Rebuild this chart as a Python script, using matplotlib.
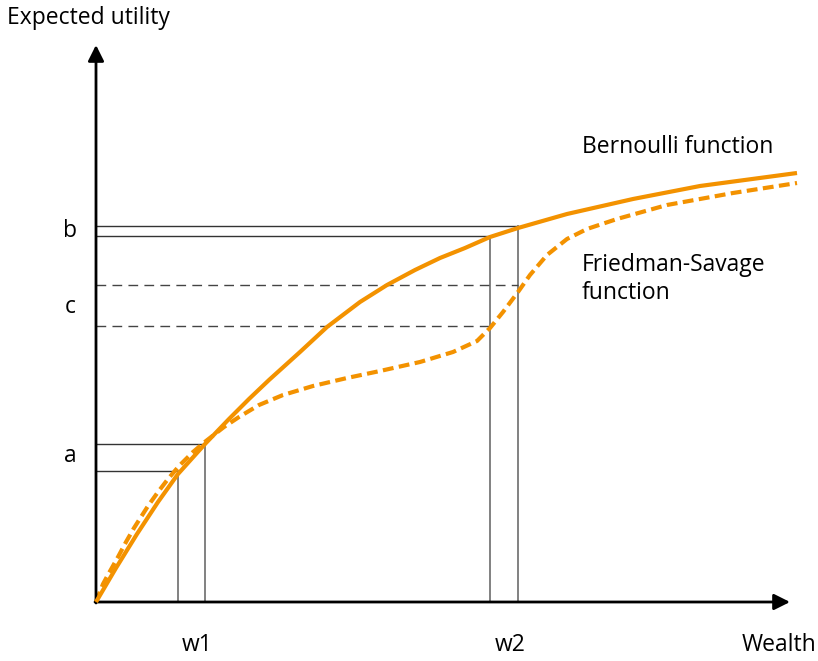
import matplotlib.pyplot as plt

# wealth / utility values (arbitrary units)
wealth_bern = [0, 20, 41, 62, 82, 109, 133, 153, 173, 204, 231, 264, 291, 319, 344,
               369, 394, 422, 471, 537, 604, 701]
util_bern = [0, 34, 68, 100, 128, 158, 183, 203, 222, 250, 275, 300, 317, 332, 344,
             354, 365, 374, 388, 403, 416, 429]

wealth_fs = [0, 7, 13, 22, 30, 38, 52, 62, 72, 83, 97, 110, 128, 143, 163, 187, 217,
             251, 284, 324, 357, 381, 394, 407, 422, 434, 451, 471, 491, 521, 571, 637, 701]
util_fs = [0, 18, 29, 45, 60, 74, 96, 110, 123, 136, 150, 161, 175, 185, 197, 207, 216,
           224, 231, 240, 250, 261, 274, 290, 310, 327, 347, 363, 373, 383, 397, 409, 419]

# gamble outcomes and the utility levels they give
w_small = [82, 109]
u_small = [131, 158]
w_big = [394, 422]
u_big = [366, 376]
u_fs = [276, 317]

xlabels = ['w1', 'w2']
ylabels = ['a', 'c', 'b']

orange = '#F39200'
plt.rcParams['font.family'] = ['Open Sans', 'DejaVu Sans']

fig = plt.figure(figsize=(8.18, 6.61), dpi=100)
ax = fig.add_axes([0, 0, 1, 1])
ax.set_xlim(-96, 722)
ax.set_ylim(-59, 602)
ax.axis('off')

# thin guide lines
for w, u in zip(w_small + w_big, u_small + u_big):
    ax.plot([0, w], [u, u], color='#333333', lw=1.0, zorder=2)
    ax.plot([w, w], [0, u], color='#777777', lw=1.3, zorder=2)
for w, u in zip(w_big, u_fs):
    ax.plot([0, w], [u, u], color='#444444', lw=1.0, dashes=(7, 4.5), zorder=2)

# curves
ax.plot(wealth_bern, util_bern, color=orange, lw=3.0, solid_joinstyle='round',
        solid_capstyle='butt', zorder=4)
ax.plot(wealth_fs, util_fs, color=orange, lw=3.0, dashes=(2.6, 1.3), zorder=3)

# axes with arrows
ax.annotate('', xy=(0, 557), xytext=(0, -1),
            arrowprops=dict(arrowstyle='-|>', lw=2, color='black', mutation_scale=24,
                            shrinkA=0, shrinkB=0))
ax.annotate('', xy=(694, 0), xytext=(-1, 0),
            arrowprops=dict(arrowstyle='-|>', lw=2, color='black', mutation_scale=24,
                            shrinkA=0, shrinkB=0))

fs = 16.5
ax.text(-89, 584, 'Expected utility', fontsize=fs, va='center', ha='left')
ax.text(720, -43, 'Wealth', fontsize=fs, va='center', ha='right')
ax.text(101, -43, xlabels[0], fontsize=fs, va='center', ha='center')
ax.text(414, -43, xlabels[1], fontsize=fs, va='center', ha='center')
ax.text(-26, 146, ylabels[0], fontsize=fs, va='center', ha='center')
ax.text(-26, 295, ylabels[1], fontsize=fs, va='center', ha='center')
ax.text(-26, 371, ylabels[2], fontsize=fs, va='center', ha='center')
ax.text(486, 455, 'Bernoulli function', fontsize=fs, va='center', ha='left')
ax.text(486, 323, 'Friedman-Savage\nfunction', fontsize=fs, va='center', ha='left',
        linespacing=1.2)

fig.savefig('out.png', dpi=100)
